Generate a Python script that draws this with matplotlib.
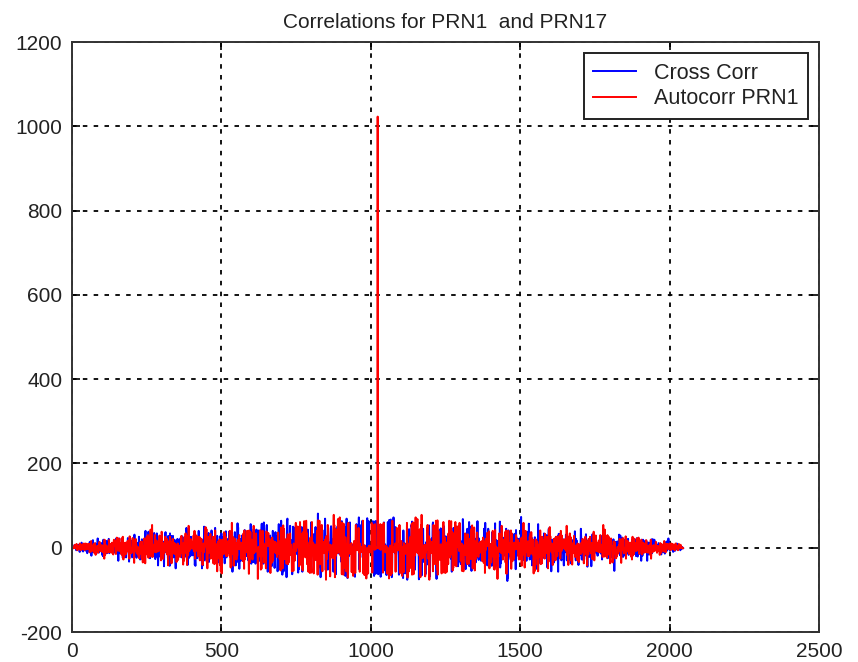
import numpy as np
import matplotlib
matplotlib.use("Agg")
import matplotlib.pyplot as plt

# GPS C/A code definition (source data of the chart)
G1_TAPS = [3, 10]
G2_TAPS = [2, 3, 6, 8, 9, 10]
PRN1_PHASE = [2, 6]
PRN17_PHASE = [1, 4]
CODE_LEN = 1023

title = "Correlations for PRN1  and PRN17"
legend_labels = ["Cross Corr", "Autocorr PRN1"]
xticks = [0, 500, 1000, 1500, 2000, 2500]
yticks = [-200, 0, 200, 400, 600, 800, 1000, 1200]


def ca_code(phase):
    g1 = [1] * 10
    g2 = [1] * 10
    out = []
    for _ in range(CODE_LEN):
        g2i = g2[phase[0] - 1] ^ g2[phase[1] - 1]
        out.append(g1[9] ^ g2i)
        f1 = 0
        for t in G1_TAPS:
            f1 ^= g1[t - 1]
        f2 = 0
        for t in G2_TAPS:
            f2 ^= g2[t - 1]
        g1 = [f1] + g1[:9]
        g2 = [f2] + g2[:9]
    return 1 - 2 * np.array(out)


prn1 = ca_code(PRN1_PHASE)
prn17 = ca_code(PRN17_PHASE)
cross = np.correlate(prn1, prn17, mode="full")
auto = np.correlate(prn1, prn1, mode="full")
lags = np.arange(1, len(cross) + 1)

plt.rcParams['font.family'] = ['Liberation Sans', 'DejaVu Sans']
plt.rcParams['axes.unicode_minus'] = False
fig = plt.figure(figsize=(8.58, 6.62), dpi=100)
ax = fig.add_axes([72 / 858, 30 / 662, (819 - 72) / 858, (632 - 42) / 662])

ax.plot(lags, cross, color=(0, 0, 1), lw=1.4, label=legend_labels[0])
ax.plot(lags, auto, color=(1, 0, 0), lw=1.4, label=legend_labels[1])

ax.set_xlim(0, 2500)
ax.set_ylim(-200, 1200)
ax.set_xticks(xticks)
ax.set_yticks(yticks)
ax.tick_params(direction='in', length=6, width=1.2, top=True, right=True,
               labelsize=15, colors='black', pad=7, labelcolor='#222222')
ax.grid(True, color='black', linestyle=(0, (2.5, 3.5)), linewidth=1.3)
for s in ax.spines.values():
    s.set_linewidth(1.4)
    s.set_color('#333333')

ax.set_title(title, fontsize=15, pad=10, color='#222222')
leg = ax.legend(loc='upper right', fontsize=15.5, fancybox=False, framealpha=1,
                edgecolor='#222222', borderpad=0.45, handlelength=2.0,
                labelspacing=0.2, handletextpad=0.8, borderaxespad=0,
                bbox_to_anchor=(0.985, 0.981))
leg.get_frame().set_linewidth(1.4)
for t in leg.get_texts():
    t.set_color('#222222')

fig.savefig("out.png", dpi=100)
